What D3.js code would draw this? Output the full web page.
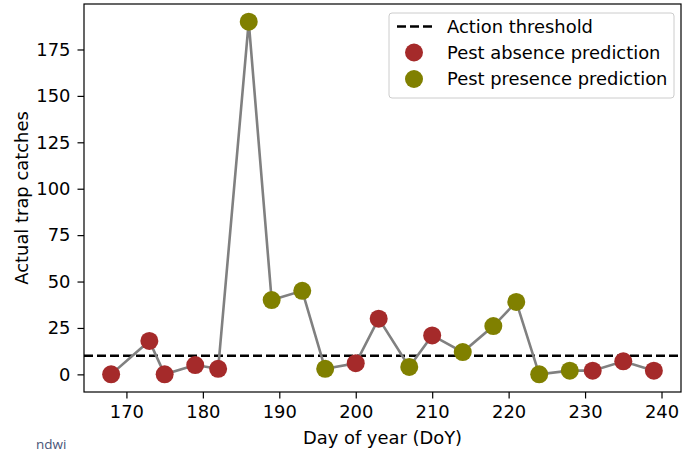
<!DOCTYPE html>
<html>
<head>
<meta charset="utf-8">
<script src="https://cdn.jsdelivr.net/npm/d3@7"></script>
<style>
  body { margin: 0; background: #fff; }
  svg { display: block; font-family: "DejaVu Sans", sans-serif; }
</style>
</head>
<body>
<div id="chart"></div>
<script>
// Data
var days    = [168, 173, 175, 179, 182, 186, 189, 193, 196, 200, 203, 207, 210, 214, 218, 221, 224, 228, 231, 235, 239];
var catches = [0, 18, 0, 5, 3, 190, 40, 45, 3, 6, 30, 4, 21, 12, 26, 39, 0, 2, 2, 7, 2];
var presence = [0, 0, 0, 0, 0, 1, 1, 1, 1, 0, 0, 1, 0, 1, 1, 1, 1, 1, 0, 0, 0];
var threshold = 10;
var xTicks = [170, 180, 190, 200, 210, 220, 230, 240];
var yTicks = [0, 25, 50, 75, 100, 125, 150, 175];
var legendLabels = ['Action threshold', 'Pest absence prediction', 'Pest presence prediction'];

var width = 682, height = 455;
var margin = { top: 4, right: 1, bottom: 63, left: 84 };
var fontSize = 17.9;
var colors = { absence: '#a52a2a', presence: '#808000' };

var points = days.map(function(d, i) {
    return { day: d, value: catches[i], cls: presence[i] ? 'presence' : 'absence' };
});

var svg = d3.select('#chart').append('svg')
    .attr('width', width).attr('height', height);

var g = svg.append('g')
    .attr('transform', 'translate(' + margin.left + ',' + margin.top + ')');
var w = width - margin.left - margin.right,
    h = height - margin.top - margin.bottom;

// matplotlib style 5% margins
var xMin = d3.min(days), xMax = d3.max(days), xPad = (xMax - xMin) * 0.05;
var yMin = d3.min(catches), yMax = d3.max(catches), yPad = (yMax - yMin) * 0.05;
var x = d3.scaleLinear().domain([xMin - xPad, xMax + xPad]).range([0, w]);
var y = d3.scaleLinear().domain([yMin - yPad, yMax + yPad]).range([h, 0]);

// Axes
var xAxis = g.append('g')
    .attr('transform', 'translate(0,' + h + ')')
    .call(d3.axisBottom(x).tickValues(xTicks).tickSize(6.5).tickPadding(7).tickSizeOuter(0));
var yAxis = g.append('g')
    .call(d3.axisLeft(y).tickValues(yTicks).tickSize(6.5).tickPadding(7).tickSizeOuter(0));
[xAxis, yAxis].forEach(function(a) {
    a.select('.domain').remove();
    a.selectAll('line').attr('stroke', '#000').attr('stroke-width', 1.2);
    a.selectAll('text')
        .attr('fill', '#000')
        .style('font-size', fontSize + 'px')
        .style('font-family', '"DejaVu Sans", sans-serif');
});

// Frame
g.append('rect')
    .attr('x', 0).attr('y', 0).attr('width', w).attr('height', h)
    .attr('fill', 'none').attr('stroke', '#000').attr('stroke-width', 1.2);

// Threshold line
g.append('line')
    .attr('x1', 0).attr('x2', w)
    .attr('y1', y(threshold)).attr('y2', y(threshold))
    .attr('stroke', '#000').attr('stroke-width', 2.4)
    .attr('stroke-dasharray', '9,4');

// Connecting line
var line = d3.line()
    .x(function(d) { return x(d.day); })
    .y(function(d) { return y(d.value); });
g.append('path')
    .datum(points)
    .attr('d', line)
    .attr('fill', 'none')
    .attr('stroke', '#808080')
    .attr('stroke-width', 2.6);

// Markers
g.selectAll('.dot').data(points).enter()
    .append('circle')
    .attr('class', 'dot')
    .attr('cx', function(d) { return x(d.day); })
    .attr('cy', function(d) { return y(d.value); })
    .attr('r', 9)
    .attr('fill', function(d) { return colors[d.cls]; });

// Axis titles
svg.append('text')
    .attr('x', margin.left + w / 2)
    .attr('y', 444)
    .attr('text-anchor', 'middle')
    .style('font-size', fontSize + 'px')
    .text('Day of year (DoY)');
svg.append('text')
    .attr('transform', 'translate(28,' + (margin.top + h / 2) + ') rotate(-90)')
    .attr('text-anchor', 'middle')
    .style('font-size', fontSize + 'px')
    .text('Actual trap catches');

// Legend
var lg = svg.append('g').attr('transform', 'translate(389,13)');
lg.append('rect')
    .attr('width', 285).attr('height', 85).attr('rx', 3)
    .attr('fill', '#fff').attr('fill-opacity', 0.8)
    .attr('stroke', '#cccccc').attr('stroke-width', 1);
lg.append('line')
    .attr('x1', 8).attr('x2', 43).attr('y1', 13.5).attr('y2', 13.5)
    .attr('stroke', '#000').attr('stroke-width', 2.4)
    .attr('stroke-dasharray', '9,4');
lg.append('circle').attr('cx', 25).attr('cy', 39.5).attr('r', 9).attr('fill', colors.absence);
lg.append('circle').attr('cx', 25).attr('cy', 66).attr('r', 9).attr('fill', colors.presence);
legendLabels.forEach(function(t, i) {
    lg.append('text')
        .attr('x', 58)
        .attr('y', 13.5 + i * 26.3)
        .attr('dy', '0.35em')
        .style('font-size', fontSize + 'px')
        .text(t);
});

// Caption
svg.append('text')
    .attr('x', 36).attr('y', 449)
    .attr('fill', '#4a5578')
    .style('font-size', '13.5px')
    .style('font-family', '"Open Sans", sans-serif')
    .text('ndwi');
</script>
</body>
</html>
